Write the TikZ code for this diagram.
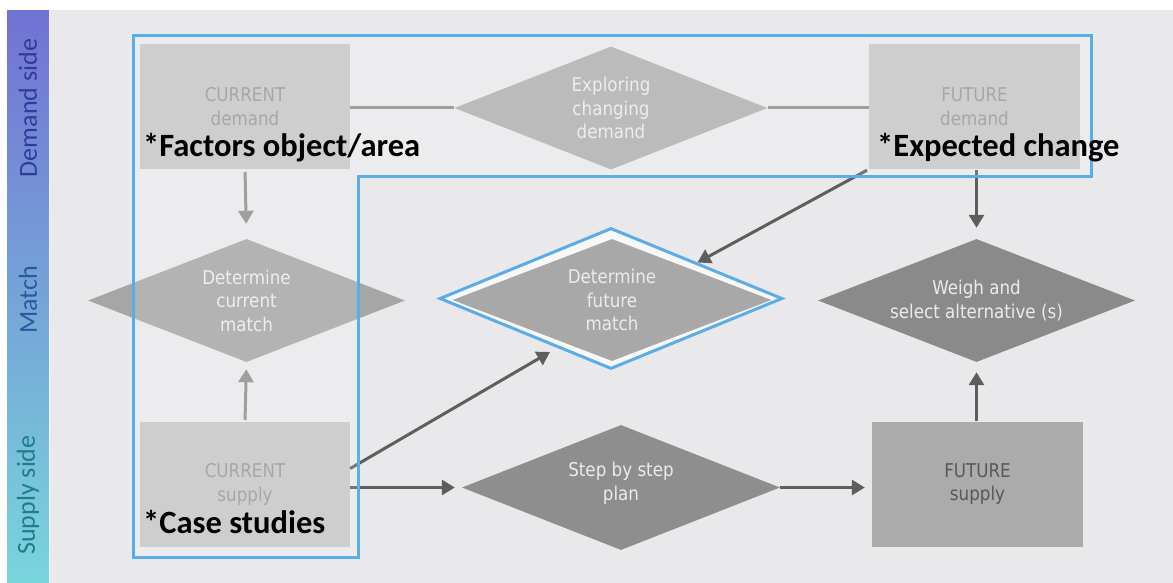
\documentclass[tikz,border=0pt]{standalone}
\usepackage{fontspec}
\setmainfont{DejaVu Sans}[FakeStretch=0.88]
\newfontfamily\calfont{Carlito}
\usetikzlibrary{shapes.geometric,arrows.meta}
\definecolor{panelgray}{HTML}{E9E9EC}
\definecolor{boxlight}{HTML}{C6C6C6}
\definecolor{boxtext}{HTML}{989898}
\definecolor{framblue}{HTML}{5BADE9}
\definecolor{arrlight}{HTML}{8F8F8F}
\definecolor{arrdark}{HTML}{5E5E5E}
\tikzset{
  boxtxt/.style={
    font=\fontsize{19}{23.5}\selectfont,
    align=center
  },
  stagebox/.style={
    boxtxt,
    shape = rectangle,
    minimum width=210pt,
    minimum height=125pt,
    inner sep=0pt
  },
  decision/.style={
    boxtxt,
    shape = diamond,
    shape aspect=2.6,
    minimum width=317pt,
    minimum height=123pt,
    inner sep=0pt,
    text=white!92!black
  },
  flowarrow/.style={
    line width=3pt,
    -{Triangle[width=15pt,length=13pt]}
  },
  bignote/.style={
    font=\calfont\bfseries\fontsize{32.5}{32.5}\selectfont,
    anchor=base west,
    inner sep=0pt
  },
  sidelabel/.style={
    font=\calfont\fontsize{26}{26}\selectfont,
    rotate=90
  }
}

\begin{document}
\begin{tikzpicture}[x=1pt,y=-1pt]
  \useasboundingbox (0,0) rectangle (1173,583);
  \fill[white] (0,0) rectangle (1173,583);
  \fill[panelgray] (50,10) rectangle (1173,583);
  \shade[top color={rgb,255:red,114;green,114;blue,211}, bottom color={rgb,255:red,121;green,213;blue,220}]
    (7,11) rectangle (49,583);
  \node[sidelabel, text={rgb,255:red,47;green,60;blue,156}] (demside) at (28,108) {Demand side};
  \node[sidelabel, text={rgb,255:red,38;green,92;blue,158}] (matchside) at (28,300) {Match};
  \node[sidelabel, text={rgb,255:red,30;green,126;blue,140}] (supside) at (28,495) {Supply side};

  % demand row
  \node[stagebox, fill=boxlight, text=boxtext] (curdem) at (245,106.5) {CURRENT\\demand};
  \node[decision, fill={rgb,255:red,176;green,176;blue,176}, minimum width=313pt] (explore) at (611,108) {Exploring\\changing\\demand};
  \node[stagebox, fill=boxlight, text=boxtext, minimum width=211pt] (futdem) at (974.5,106.5) {FUTURE\\demand};
  \draw[arrlight, line width=3pt] (curdem.east |- explore) -- (explore.west);
  \draw[arrlight, line width=3pt] (explore.east) -- (explore.east -| futdem.west);

  % match row
  \node[decision, fill={rgb,255:red,166;green,166;blue,166}] (curmatch) at (246.5,300.5) {Determine\\current\\match};
  \node[shape=diamond, minimum width=343pt, minimum height=141pt, inner sep=0pt,
        draw=framblue, line width=3pt, fill=white!70!panelgray] (fmframe) at (611,298.5) {};
  \node[decision, fill={rgb,255:red,168;green,168;blue,168}, minimum width=319pt, minimum height=122pt] (futmatch) at (612,300) {Determine\\future\\match};
  \node[decision, fill={rgb,255:red,138;green,138;blue,138}] (weigh) at (976.5,300.5) {Weigh and\\select alternative (s)};

  % supply row
  \node[stagebox, fill=boxlight, text=boxtext] (cursup) at (245,484.5) {CURRENT\\supply};
  \node[decision, fill={rgb,255:red,142;green,142;blue,142}, minimum width=318pt, minimum height=125pt, text depth=12pt] (stepplan) at (621,487.5) {Step by step\\plan};
  \node[stagebox, fill={rgb,255:red,171;green,171;blue,171}, text={rgb,255:red,88;green,88;blue,88}, minimum width=211pt] (futsup) at (977.5,484) {FUTURE\\supply};
  \coordinate (fmtip) at (550,352);

  \draw[flowarrow, arrlight, shorten <=3pt, shorten >=15pt] (curdem.south) -- (curmatch.north);
  \draw[flowarrow, arrlight, shorten <=2pt, shorten >=7pt] (cursup.north) -- (curmatch.south);
  \draw[flowarrow, arrdark] ([yshift=16pt]cursup.east) -- (fmtip);
  \draw[flowarrow, arrdark, shorten >=7pt] (cursup.east |- stepplan) -- (stepplan.west);
  \draw[flowarrow, arrdark, shorten >=7pt] (stepplan.east) -- (stepplan.east -| futsup.west);
  \draw[flowarrow, arrdark, shorten >=10pt] (futsup.north -| weigh) -- (weigh.south);
  \draw[flowarrow, arrdark, shorten <=1pt, shorten >=11pt] (futdem.south -| weigh) -- (weigh.north);
  \draw[flowarrow, arrdark, shorten <=2pt] (futdem.south west) -- (fmframe.north east);

  % highlighted scope
  \draw[framblue, line width=3pt, fill=white, fill opacity=0.15]
    (133,36) -- (1091,36) -- (1091,177) -- (358,177) -- (358,557) -- (133,557) -- cycle;

  \node[bignote] (factors) at (143,157) {*Factors object/area};
  \node[bignote] (expected) at (877,157) {*Expected change};
  \node[bignote] (cases) at (143,533) {*Case studies};
\end{tikzpicture}
\end{document}
